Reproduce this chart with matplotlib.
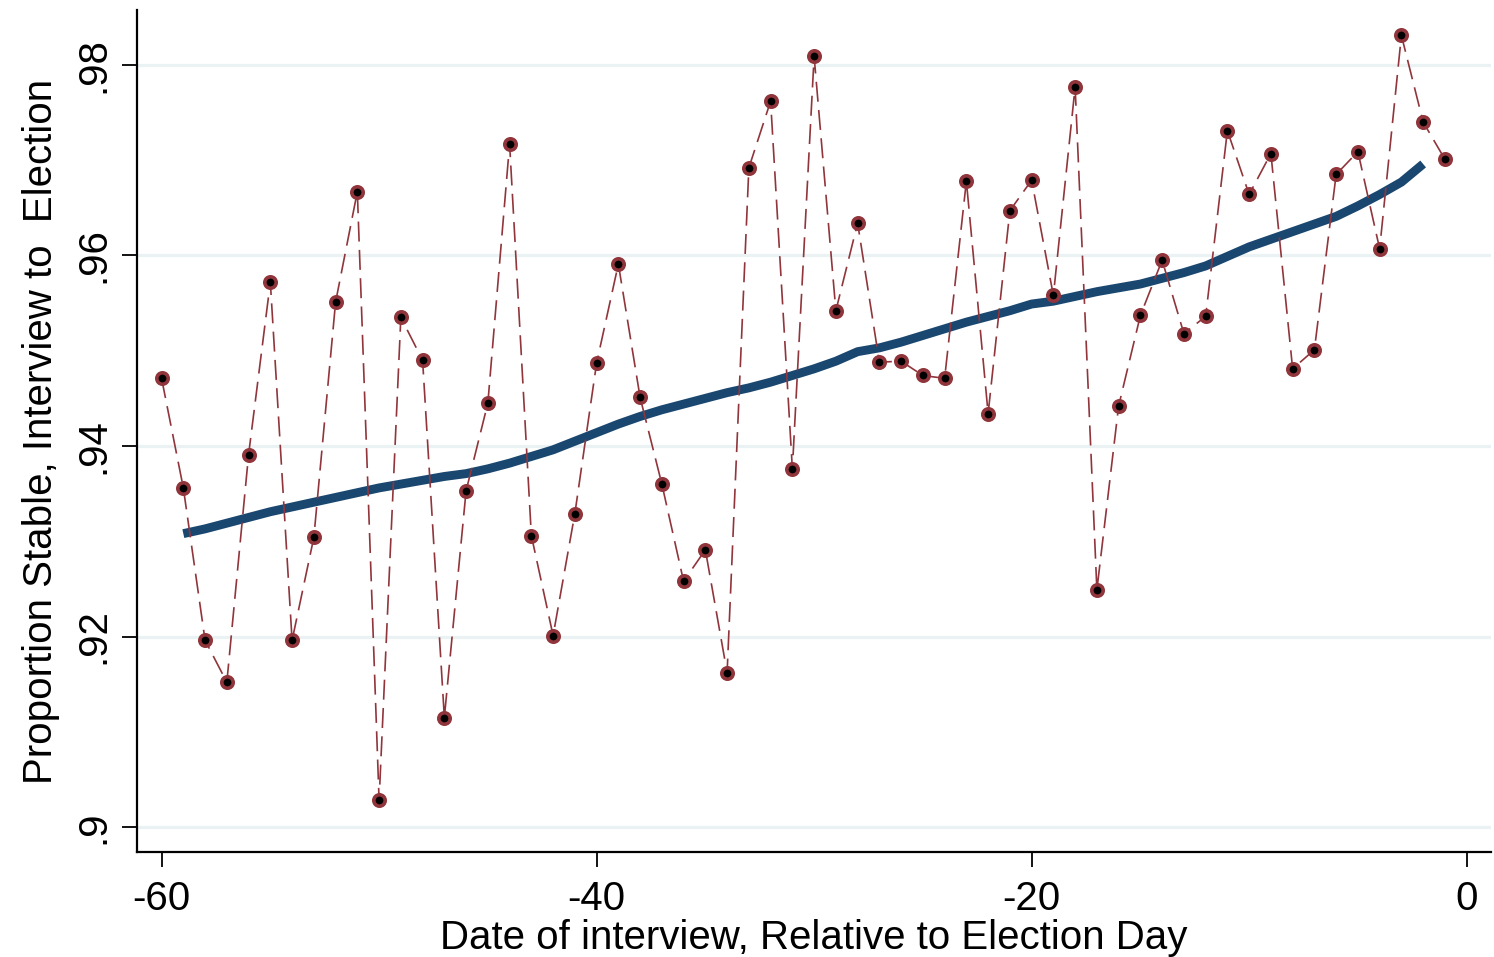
import matplotlib
matplotlib.use("Agg")
import matplotlib.pyplot as plt
from matplotlib.ticker import FixedLocator, FixedFormatter

# Daily share of respondents whose vote intention stayed the same
days = list(range(-60, 0))
stable = [
    0.9471, 0.9356, 0.9196, 0.9152, 0.9391, 0.9572, 0.9196, 0.9304, 0.9551, 0.9667,
    0.9028, 0.9535, 0.9490, 0.9115, 0.9353, 0.9445, 0.9717, 0.9306, 0.9201, 0.9329,
    0.9487, 0.9591, 0.9451, 0.9360, 0.9258, 0.9291, 0.9162, 0.9692, 0.9762, 0.9376,
    0.9809, 0.9542, 0.9634, 0.9488, 0.9489, 0.9474, 0.9471, 0.9678, 0.9434, 0.9647,
    0.9679, 0.9558, 0.9777, 0.9249, 0.9442, 0.9537, 0.9595, 0.9518, 0.9536, 0.9731,
    0.9664, 0.9707, 0.9481, 0.9501, 0.9685, 0.9709, 0.9607, 0.9831, 0.9740, 0.9701,
]

# Lowess smooth of the daily series
smooth_days = list(range(-59, -1))
smooth_vals = [
    0.9308, 0.9313, 0.9319, 0.9325, 0.9331, 0.9336, 0.9341, 0.9346, 0.9351, 0.9356,
    0.9360, 0.9364, 0.9368, 0.9371, 0.9376, 0.9382, 0.9389, 0.9396, 0.9405, 0.9414,
    0.9423, 0.9431, 0.9438, 0.9444, 0.9450, 0.9456, 0.9461, 0.9467, 0.9474, 0.9481,
    0.9489, 0.9499, 0.9503, 0.9509, 0.9516, 0.9523, 0.9530, 0.9536, 0.9542, 0.9549,
    0.9552, 0.9557, 0.9562, 0.9566, 0.9570, 0.9576, 0.9582, 0.9589, 0.9599, 0.9609,
    0.9617, 0.9625, 0.9633, 0.9641, 0.9652, 0.9664, 0.9677, 0.9696,
]

x_ticks = [-60, -40, -20, 0]
x_ticklabels = ["-60", "-40", "-20", "0"]
y_ticks = [0.90, 0.92, 0.94, 0.96, 0.98]
y_ticklabels = [".9", ".92", ".94", ".96", ".98"]

MAROON = "#90353b"
NAVY = "#1a476f"
GRID = "#eaf2f3"

plt.rcParams["font.family"] = ["Liberation Sans", "DejaVu Sans"]

fig = plt.figure(figsize=(14.94, 9.57), dpi=100)
ax = fig.add_axes([0.0917, 0.1097, 0.9063, 0.8799])

ax.set_xlim(-61.13, 1.12)
ax.set_ylim(0.89738, 0.98577)

for yv in y_ticks:
    ax.axhline(yv, color=GRID, lw=2.3, zorder=0)

ax.plot(smooth_days, smooth_vals, color=NAVY, lw=6.4, solid_capstyle="butt", zorder=2)
ax.plot(days, stable, color=MAROON, lw=1.2, dashes=(12, 5),
        marker="o", ms=8.2, mfc="black", mec=MAROON, mew=2.6, zorder=3)

ax.xaxis.set_major_locator(FixedLocator(x_ticks))
ax.xaxis.set_major_formatter(FixedFormatter(x_ticklabels))
ax.yaxis.set_major_locator(FixedLocator(y_ticks))
ax.yaxis.set_major_formatter(FixedFormatter(y_ticklabels))

for side in ("top", "right"):
    ax.spines[side].set_visible(False)
for side in ("left", "bottom"):
    ax.spines[side].set_linewidth(1.6)
    ax.spines[side].set_color("black")

ax.tick_params(axis="both", direction="out", length=11, width=1.3, labelsize=29, colors="black")
ax.tick_params(axis="x", pad=9)
ax.tick_params(axis="y", pad=7)
for lbl in ax.get_yticklabels():
    lbl.set_rotation(90)
    lbl.set_va("center")

ax.set_xlabel("Date of interview, Relative to Election Day", fontsize=29, labelpad=1)
ax.set_ylabel("Proportion Stable, Interview to  Election", fontsize=29, labelpad=10)

fig.savefig("out.png", dpi=100)
